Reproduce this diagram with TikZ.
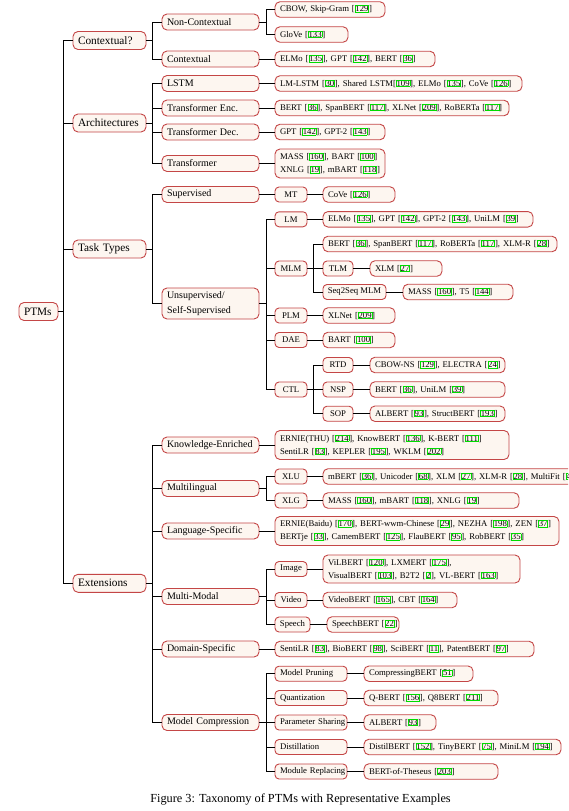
\documentclass[tikz,border=0pt]{standalone}
\usepackage{fontspec}
\setmainfont{Liberation Serif}
\definecolor{bcol}{RGB}{196,70,70}
\definecolor{fcol}{RGB}{253,246,240}
\definecolor{citeg}{RGB}{0,220,0}
\newcommand\ct[1]{[{\fboxsep=0pt\fboxrule=0.6pt\color{citeg}\fbox{\color{black}#1}}]}
\newcommand\nb[1]{\mbox{#1}}
\begin{document}
\begin{tikzpicture}[x=1pt,y=-1pt,
  base/.style={draw=bcol, fill=fcol, line width=0.9pt, rounded corners=5pt, anchor=west,
               inner xsep=5pt, inner ysep=1pt, align=left, outer sep=0pt},
  wd/.style={minimum width=#1, text width=#1-10},
  lone/.style={base, font=\fontsize{11.3}{13}\selectfont, minimum height=18},
  ltwo/.style={base, font=\fontsize{10}{15}\selectfont, minimum height=16, wd=97},
  leaf/.style={base, font=\fontsize{8.7}{13}\selectfont, minimum height=15.5},
  cat/.style={base, font=\fontsize{8.7}{13}\selectfont, minimum height=15, inner xsep=2pt,
              align=center, rounded corners=4pt},
  catl/.style={leaf, wd=72, minimum height=15, rounded corners=4pt},
  link/.style={draw=black, line width=0.9pt}]
\useasboundingbox (0,0) rectangle (568,811);
\clip (0,0) rectangle (568,811);
\fill[white] (0,0) rectangle (568,811);

% root and level 1
\node[lone,wd=39] (ptms) at (19,311.5) {PTMs};
\node[lone,wd=73] (ctx) at (73,40.5) {Contextual?};
\node[lone,wd=73] (arch) at (73,123) {Architectures};
\node[lone,wd=73] (task) at (73,249) {Task Types};
\node[lone,wd=73] (ext) at (73,583.3) {Extensions};

% level 2
\node[ltwo] (nonctx) at (162,22) {Non-Contextual};
\node[ltwo] (contx) at (162,59) {Contextual};
\node[ltwo] (lstm) at (162,83.5) {LSTM};
\node[ltwo] (tenc) at (162,108) {Transformer Enc.};
\node[ltwo] (tdec) at (162,132) {Transformer Dec.};
\node[ltwo] (trans) at (162,163.5) {Transformer};
\node[ltwo] (sup) at (162,194.5) {Supervised};
\node[ltwo,minimum height=31] (unsup) at (162,303.5) {Unsupervised/\\Self-Supervised};
\node[ltwo] (know) at (162,445) {Knowledge-Enriched};
\node[ltwo] (multi) at (162,488.5) {Multilingual};
\node[ltwo] (lang) at (162,531) {Language-Specific};
\node[ltwo] (mm) at (162,596.5) {Multi-Modal};
\node[ltwo] (dom) at (162,649) {Domain-Specific};
\node[ltwo] (comp) at (162,722.5) {Model Compression};

% leaves of Contextual? and Architectures
\node[leaf,wd=110] (l-cbow) at (275,9.5) {\nb{CBOW, Skip-Gram \ct{129}}};
\node[leaf,wd=73] (l-glove) at (275,34.5) {\nb{GloVe \ct{133}}};
\node[leaf,wd=160] (l-ctx) at (275,59) {\nb{ELMo \ct{135}, GPT \ct{142}, BERT \ct{36}}};
\node[leaf,wd=247] (l-lstm) at (275,83.5) {\nb{LM-LSTM \ct{30}, Shared LSTM\ct{109}, ELMo \ct{135}, CoVe \ct{126}}};
\node[leaf,wd=234] (l-tenc) at (275,108) {\nb{BERT \ct{36}, SpanBERT \ct{117}, XLNet \ct{209}, RoBERTa \ct{117}}};
\node[leaf,wd=110] (l-tdec) at (275,132) {\nb{GPT \ct{142}, GPT-2 \ct{143}}};
\node[leaf,wd=110,minimum height=29] (l-trans) at (275,163.5) {\nb{MASS \ct{160}, BART \ct{100}}\\\nb{XNLG \ct{19}, mBART \ct{118}}};

% Task Types subtree
\node[cat,minimum width=32] (mt) at (275,194.5) {MT};
\node[leaf,wd=72] (l-mt) at (323,194.5) {\nb{CoVe \ct{126}}};
\node[cat,minimum width=32] (lm) at (275,219.3) {LM};
\node[leaf,wd=210] (l-lm) at (323,219.3) {\nb{ELMo \ct{135}, GPT \ct{142}, GPT-2 \ct{143}, UniLM \ct{39}}};
\node[cat,minimum width=32] (mlm) at (275,268.5) {MLM};
\node[leaf,wd=234] (l-mlm) at (323,244) {\nb{BERT \ct{36}, SpanBERT \ct{117}, RoBERTa \ct{117}, XLM-R \ct{28}}};
\node[cat,minimum width=30] (tlm) at (323,268.5) {TLM};
\node[leaf,wd=72] (l-tlm) at (370,268.5) {\nb{XLM \ct{27}}};
\node[cat,minimum width=63] (s2s) at (323,292) {Seq2Seq MLM};
\node[leaf,wd=110] (l-s2s) at (403,292) {\nb{MASS \ct{160}, T5 \ct{144}}};
\node[cat,minimum width=32] (plm) at (275,315.5) {PLM};
\node[leaf,wd=72] (l-plm) at (323,315.5) {\nb{XLNet \ct{209}}};
\node[cat,minimum width=32] (dae) at (275,340) {DAE};
\node[leaf,wd=72] (l-dae) at (323,340) {\nb{BART \ct{100}}};
\node[cat,minimum width=32] (ctl) at (275,389.5) {CTL};
\node[cat,minimum width=30] (rtd) at (323,365) {RTD};
\node[cat,minimum width=30] (nsp) at (323,389.5) {NSP};
\node[cat,minimum width=30] (sop) at (323,413.7) {SOP};
\node[leaf,wd=135] (l-rtd) at (370,365) {\nb{CBOW-NS \ct{129}, ELECTRA \ct{24}}};
\node[leaf,wd=135] (l-nsp) at (370,389.5) {\nb{BERT \ct{36}, UniLM \ct{39}}};
\node[leaf,wd=135] (l-sop) at (370,413.7) {\nb{ALBERT \ct{93}, StructBERT \ct{193}}};

% Extensions subtree
\node[leaf,wd=234,minimum height=29] (l-know) at (275,445) {\nb{ERNIE(THU) \ct{214}, KnowBERT \ct{136}, K-BERT \ct{111}}\\\nb{SentiLR \ct{83}, KEPLER \ct{195}, WKLM \ct{202}}};
\node[cat,minimum width=32] (xlu) at (275,476.5) {XLU};
\node[leaf,wd=270] (l-xlu) at (323,476.5) {\nb{mBERT \ct{36}, Unicoder \ct{68}, XLM \ct{27}, XLM-R \ct{28}, MultiFit \ct{42}}};
\node[cat,minimum width=32] (xlg) at (275,500.5) {XLG};
\node[leaf,wd=196] (l-xlg) at (323,500.5) {\nb{MASS \ct{160}, mBART \ct{118}, XNLG \ct{19}}};
\node[leaf,wd=284,minimum height=29] (l-lang) at (275,531) {\nb{ERNIE(Baidu) \ct{170}, BERT-wwm-Chinese \ct{29}, NEZHA \ct{198}, ZEN \ct{37}}\\\nb{BERTje \ct{33}, CamemBERT \ct{125}, FlauBERT \ct{95}, RobBERT \ct{35}}};
\node[cat,minimum width=32] (img) at (275,569) {Image};
\node[leaf,wd=197,minimum height=28] (l-img) at (323,569) {\nb{ViLBERT \ct{120}, LXMERT \ct{175},}\\\nb{VisualBERT \ct{103}, B2T2 \ct{2}, VL-BERT \ct{163}}};
\node[cat,minimum width=32] (vid) at (275,600) {Video};
\node[leaf,wd=134] (l-vid) at (323,600) {\nb{VideoBERT \ct{165}, CBT \ct{164}}};
\node[cat,minimum width=35] (sp) at (275,624.5) {Speech};
\node[leaf,wd=72] (l-sp) at (327,624.5) {\nb{SpeechBERT \ct{22}}};
\node[leaf,wd=259] (l-dom) at (275,649) {\nb{SentiLR \ct{83}, BioBERT \ct{98}, SciBERT \ct{11}, PatentBERT \ct{97}}};
\node[catl] (prune) at (275,673.7) {\nb{Model Pruning}};
\node[catl] (quant) at (275,698) {\nb{Quantization}};
\node[catl] (share) at (275,722.5) {\nb{Parameter Sharing}};
\node[catl] (dist) at (275,747) {\nb{Distillation}};
\node[catl] (modr) at (275,771.5) {\nb{Module Replacing}};
\node[leaf,wd=109] (l-prune) at (364,673.7) {\nb{CompressingBERT \ct{51}}};
\node[leaf,wd=134] (l-quant) at (364,698) {\nb{Q-BERT \ct{156}, Q8BERT \ct{211}}};
\node[leaf,wd=72] (l-share) at (364,722.5) {\nb{ALBERT \ct{93}}};
\node[leaf,wd=197] (l-dist) at (364,747) {\nb{DistilBERT \ct{152}, TinyBERT \ct{75}, MiniLM \ct{194}}};
\node[leaf,wd=134] (l-modr) at (364,771.5) {\nb{BERT-of-Theseus \ct{203}}};

% caption
\node[font=\fontsize{12.3}{14}\selectfont, inner sep=0pt] (cap) at (300.5,799) {Figure 3: Taxonomy of PTMs with Representative Examples};

% connectors
\foreach \n in {ctx,arch,task,ext} \draw[link] (ptms.east) -- ++(5,0) |- (\n.west);
\foreach \n in {nonctx,contx} \draw[link] (ctx.east) -- ++(6,0) |- (\n.west);
\foreach \n in {lstm,tenc,tdec,trans} \draw[link] (arch.east) -- ++(6,0) |- (\n.west);
\foreach \n in {sup,unsup} \draw[link] (task.east) -- ++(6,0) |- (\n.west);
\foreach \n in {know,multi,lang,mm,dom,comp} \draw[link] (ext.east) -- ++(6,0) |- (\n.west);

\foreach \n in {l-cbow,l-glove} \draw[link] (nonctx.east) -- ++(7,0) |- (\n.west);
\draw[link] (contx.east) -- (l-ctx.west);
\draw[link] (lstm.east) -- (l-lstm.west);
\draw[link] (tenc.east) -- (l-tenc.west);
\draw[link] (tdec.east) -- (l-tdec.west);
\draw[link] (trans.east) -- (l-trans.west);

\draw[link] (sup.east) -- (mt.west);
\draw[link] (mt.east) -- (l-mt.west);
\foreach \n in {lm,mlm,plm,dae,ctl} \draw[link] (unsup.east) -- ++(7,0) |- (\n.west);
\draw[link] (lm.east) -- (l-lm.west);
\foreach \n in {l-mlm,tlm,s2s} \draw[link] (mlm.east) -- ++(6,0) |- (\n.west);
\draw[link] (tlm.east) -- (l-tlm.west);
\draw[link] (s2s.east) -- (l-s2s.west);
\draw[link] (plm.east) -- (l-plm.west);
\draw[link] (dae.east) -- (l-dae.west);
\foreach \n in {rtd,nsp,sop} \draw[link] (ctl.east) -- ++(6,0) |- (\n.west);
\draw[link] (rtd.east) -- (l-rtd.west);
\draw[link] (nsp.east) -- (l-nsp.west);
\draw[link] (sop.east) -- (l-sop.west);

\draw[link] (know.east) -- (l-know.west);
\foreach \n in {xlu,xlg} \draw[link] (multi.east) -- ++(7,0) |- (\n.west);
\draw[link] (xlu.east) -- (l-xlu.west);
\draw[link] (xlg.east) -- (l-xlg.west);
\draw[link] (lang.east) -- (l-lang.west);
\foreach \n in {img,vid,sp} \draw[link] (mm.east) -- ++(7,0) |- (\n.west);
\draw[link] (img.east) -- (l-img.west);
\draw[link] (vid.east) -- (l-vid.west);
\draw[link] (sp.east) -- (l-sp.west);
\draw[link] (dom.east) -- (l-dom.west);
\foreach \n in {prune,quant,share,dist,modr} \draw[link] (comp.east) -- ++(7,0) |- (\n.west);
\draw[link] (prune.east) -- (l-prune.west);
\draw[link] (quant.east) -- (l-quant.west);
\draw[link] (share.east) -- (l-share.west);
\draw[link] (dist.east) -- (l-dist.west);
\draw[link] (modr.east) -- (l-modr.west);
\end{tikzpicture}
\end{document}
